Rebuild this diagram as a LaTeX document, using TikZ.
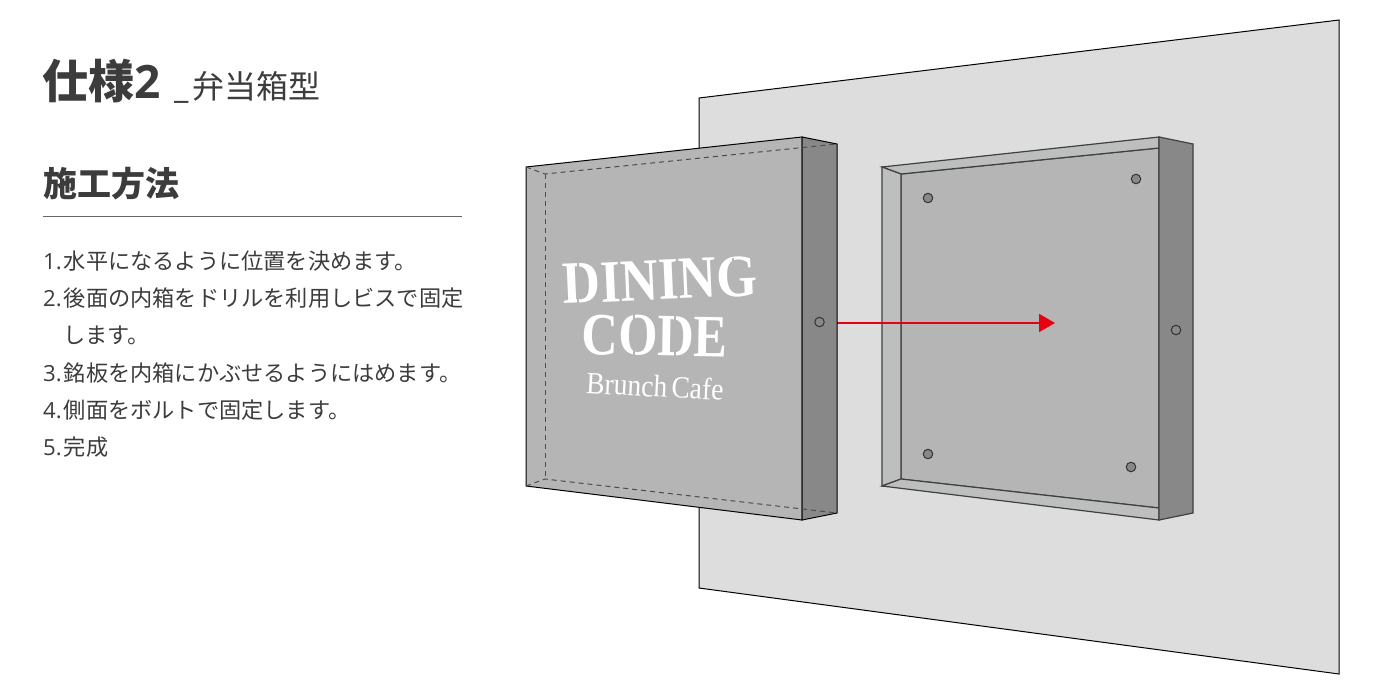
\documentclass[tikz,border=0pt]{standalone}
\usepackage{fontspec}
\usetikzlibrary{arrows.meta}
\setmainfont{Open Sans}
\newfontfamily\cjk{Noto Sans CJK JP}
\newfontfamily\signfont{Liberation Serif}
\definecolor{inktext}{HTML}{3C3C3C}
\definecolor{wallgray}{HTML}{DDDDDD}
\definecolor{facegray}{HTML}{B5B5B5}
\definecolor{rimgray}{HTML}{BDBEBE}
\definecolor{sidegray}{HTML}{888888}
\definecolor{arrowred}{HTML}{E60012}
\tikzset{
  bodytext/.style={anchor=base west,inner sep=0pt,text=inktext,font=\fontsize{22.2}{22.2}\selectfont},
  signtext/.style={inner sep=0pt,text=white},
  hole/.style={circle,draw=black!80,fill=sidegray,line width=1pt,minimum size=9.5pt,inner sep=0pt},
  openhole/.style={hole,fill=none},
  inner edge/.style={draw=black!75,line width=1.2pt},
  hidden edge/.style={black!70,line width=1pt,dash pattern=on 5pt off 4pt},
  stencil cut/.style={facegray,line width=1.6pt}
}
\begin{document}
\begin{tikzpicture}[x=1pt,y=-1pt]
\useasboundingbox (0,0) rectangle (1383,694);
% wall
\draw[fill=wallgray,line width=1pt] (699,98) -- (1339,20) -- (1339,674) -- (699,588) -- cycle;
% heading
\node[anchor=base west,inner sep=0pt,text=inktext,font=\fontsize{46}{46}\bfseries] (title) at (42,98) {\cjk 仕様\normalfont\bfseries 2};
\node[anchor=base west,inner sep=0pt,text=inktext,font=\fontsize{32}{32}\selectfont] (subtitle) at (174,98) {\_\hspace{4pt}\cjk 弁当箱型};
\node[anchor=base west,inner sep=0pt,text=inktext,font=\fontsize{34}{34}\bfseries] (method) at (43,196) {\cjk 施工方法};
\draw[black!60,line width=1pt] (43,216) -- (462,216);
\node[bodytext] (stepa) at (43,269) {1.\hspace{2pt}\cjk 水平になるように位置を決めます。};
\node[bodytext] (stepb) at (43,306) {2.\hspace{2pt}\cjk 後面の内箱をドリルを利用しビスで固定};
\node[bodytext] (stepbb) at (63,343) {\cjk します。};
\node[bodytext] (stepc) at (43,381) {3.\hspace{2pt}\cjk 銘板を内箱にかぶせるようにはめます。};
\node[bodytext] (stepd) at (43,418) {4.\hspace{2pt}\cjk 側面をボルトで固定します。};
\node[bodytext] (stepe) at (43,455) {5.\hspace{2pt}\cjk 完成};
% inner box
\draw[fill=facegray,inner edge] (901,174) -- (1159,148) -- (1159,508) -- (901,479) -- cycle;
\draw[fill=rimgray,inner edge] (882,167) -- (1159,137) -- (1159,148) -- (901,174) -- cycle;
\draw[fill=rimgray,inner edge] (882,167) -- (901,174) -- (901,479) -- (882,486) -- cycle;
\draw[fill=rimgray,inner edge] (882,486) -- (901,479) -- (1159,508) -- (1159,520) -- cycle;
\draw[fill=sidegray,inner edge] (1159,137) -- (1193,144) -- (1193,513) -- (1159,520) -- cycle;
\node[hole] (holea) at (928,198) {};
\node[hole] (holeb) at (1136,179) {};
\node[hole] (holec) at (928,454) {};
\node[hole] (holed) at (1131,467) {};
\node[openhole] (holee) at (1176,330) {};
% arrow
\coordinate (arrowstart) at (837,323);
\coordinate (arrowend) at (1055,323);
\draw[-{Triangle[length=16pt,width=18pt]},arrowred,line width=1.8pt] (arrowstart) -- (arrowend);
% sign plate
\draw[fill=facegray,line width=1pt] (526,167) -- (802,137) -- (802,520) -- (526,486) -- cycle;
\draw[fill=sidegray,line width=1pt] (802,137) -- (837,144) -- (837,513) -- (802,520) -- cycle;
\draw[hidden edge] (526,167) -- (545,174) -- (837,144);
\draw[hidden edge] (545,174) -- (545,479);
\draw[hidden edge] (526,486) -- (545,479) -- (837,513);
\node[openhole] (holef) at (819.5,322) {};
\node[signtext,rotate=2.5,xscale=0.87,font=\signfont\bfseries\fontsize{60}{60}\selectfont] (signa) at (660,280) {DINING};
\node[signtext,rotate=-1,xscale=0.84,font=\signfont\bfseries\fontsize{60}{60}\selectfont] (signb) at (655,336) {CODE};
\node[signtext,rotate=-3,xscale=0.89,font=\signfont\fontsize{31}{31}\selectfont] (signc) at (655,386) {Brunch\hspace{-3pt} Cafe};
% stencil gaps
\foreach \cx/\cy in {578/266,578/299,634/316,634/356,675/317,675/357,733/263}
  \draw[stencil cut] (\cx,\cy-5) -- (\cx,\cy+5);
\end{tikzpicture}
\end{document}
